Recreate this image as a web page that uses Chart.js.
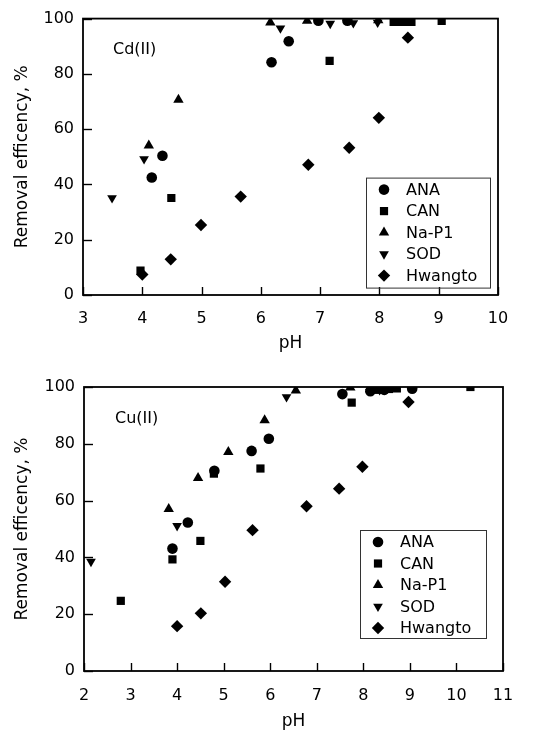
<!DOCTYPE html>
<html>
<head>
<meta charset="utf-8">
<script src="https://cdn.jsdelivr.net/npm/chart.js@4/dist/chart.umd.min.js"></script>
<style>
  html, body { margin: 0; padding: 0; background: #fff; }
  #wrap { position: relative; width: 542px; height: 733px; overflow: hidden; }
  canvas { position: absolute; left: 0; }
  #c1 { top: 0; }
  #c2 { top: 365px; }
</style>
</head>
<body>
<div id="wrap">
  <canvas id="c1" width="542" height="360"></canvas>
  <canvas id="c2" width="542" height="368"></canvas>
</div>
<script>
// ---------- Data: Cd(II) ----------
const cdAnaX = [4.16, 4.34, 6.18, 6.47, 6.97, 7.46, 8.47];
const cdAnaY = [42.5, 50.4, 84.2, 91.8, 99.2, 99.2, 99.2];
const cdCanX = [3.97, 4.49, 7.16, 8.24, 8.33, 8.42, 8.54, 9.05];
const cdCanY = [8.8, 35.1, 84.7, 98.8, 98.8, 98.8, 98.8, 99.2];
const cdNaX  = [4.11, 4.61, 6.16, 6.78, 7.98];
const cdNaY  = [54.1, 70.6, 98.6, 99.2, 99.4];
const cdSodX = [3.49, 4.03, 6.33, 7.17, 7.56, 7.97];
const cdSodY = [35.1, 49.2, 96.5, 98.2, 98.4, 98.6];
const cdHwX  = [4.0, 4.48, 4.99, 5.66, 6.8, 7.49, 7.99, 8.48];
const cdHwY  = [7.4, 12.9, 25.3, 35.6, 47.1, 53.3, 64.1, 93.1];

// ---------- Data: Cu(II) ----------
const cuAnaX = [3.9, 4.23, 4.8, 5.6, 5.97, 7.55, 8.15, 8.45, 9.05];
const cuAnaY = [43.1, 52.3, 70.5, 77.5, 81.8, 97.5, 98.5, 99.0, 99.4];
const cuCanX = [2.79, 3.9, 4.5, 4.79, 5.79, 7.75, 8.3, 8.55, 8.72, 10.3];
const cuCanY = [24.7, 39.3, 45.8, 69.5, 71.3, 94.5, 99.0, 99.3, 99.5, 100];
const cuNaX  = [3.82, 4.45, 5.1, 5.88, 6.55, 7.72, 8.15];
const cuNaY  = [57.0, 68.0, 77.1, 88.3, 98.8, 99.8, 100];
const cuSodX = [2.15, 4.0, 6.35, 8.35];
const cuSodY = [38.5, 51.1, 96.5, 99.0];
const cuHwX  = [4.0, 4.51, 5.03, 5.62, 6.78, 7.48, 7.98, 8.97];
const cuHwY  = [15.8, 20.3, 31.4, 49.6, 58.0, 64.2, 71.9, 94.7];

const seriesNames = ['ANA', 'CAN', 'Na-P1', 'SOD', 'Hwangto'];
const xTicksCd = [3, 10];
const xTicksCu = [2, 11];
const yTicks = [0, 100];

const styles = [
  { pointStyle: 'circle',   rotation: 0,   radius: 5.3 },
  { pointStyle: 'rect',     rotation: 0,   radius: 5.8 },
  { pointStyle: 'triangle', rotation: 0,   radius: 6.0 },
  { pointStyle: 'triangle', rotation: 180, radius: 5.6 },
  { pointStyle: 'rectRot',  rotation: 0,   radius: 6.2 }
];

function pts(xs, ys) { return xs.map((x, i) => ({ x: x, y: ys[i] })); }

function makeSets(groups) {
  return groups.map((g, i) => ({
    label: seriesNames[i],
    data: pts(g[0], g[1]),
    pointStyle: styles[i].pointStyle,
    rotation: styles[i].rotation,
    pointRadius: styles[i].radius,
    pointHoverRadius: styles[i].radius,
    backgroundColor: '#000',
    borderColor: '#000',
    borderWidth: 0,
    showLine: false
  }));
}

const FONT = '"DejaVu Sans", sans-serif';

const framePlugin = {
  id: 'frame',
  afterDraw(chart, args, opts) {
    const ctx = chart.ctx;
    const a = chart.chartArea;
    const xs = chart.scales.x, ys = chart.scales.y;
    ctx.save();
    ctx.strokeStyle = '#000';
    ctx.lineWidth = 1.8;
    ctx.strokeRect(a.left, a.top, a.right - a.left, a.bottom - a.top);
    ctx.lineWidth = 1.4;
    xs.ticks.forEach(t => {
      const px = Math.round(xs.getPixelForValue(t.value)) + 0.5;
      ctx.beginPath(); ctx.moveTo(px, a.bottom); ctx.lineTo(px, a.bottom - 8); ctx.stroke();
    });
    ys.ticks.forEach(t => {
      const py = Math.round(ys.getPixelForValue(t.value)) + 0.5;
      ctx.beginPath(); ctx.moveTo(a.left, py); ctx.lineTo(a.left + 9, py); ctx.stroke();
    });
    // panel label
    ctx.fillStyle = '#000';
    ctx.font = '16px ' + FONT;
    ctx.textBaseline = 'middle';
    ctx.textAlign = 'left';
    ctx.fillText(opts.label, a.left + opts.labelDx, a.top + opts.labelDy);
    // legend box
    const lx = a.right - opts.legRight, ly = a.top + opts.legTop;
    ctx.lineWidth = 1;
    ctx.strokeStyle = '#333';
    ctx.strokeRect(lx + 0.5, ly + 0.5, opts.legW, opts.legH);
    chart.data.datasets.forEach((ds, i) => {
      const cy = ly + 12 + i * 21.5;
      ctx.fillStyle = '#000';
      ctx.strokeStyle = '#000';
      Chart.helpers.drawPoint(ctx, {
        pointStyle: ds.pointStyle, rotation: ds.rotation, radius: ds.pointRadius, borderWidth: 0
      }, lx + 18, cy);
      ctx.fillStyle = '#000';
      ctx.font = '16px ' + FONT;
      ctx.textBaseline = 'middle';
      ctx.fillText(ds.label, lx + 40, cy + 1);
    });
    ctx.restore();
  }
};

function makeChart(id, groups, xr, cfg) {
  return new Chart(document.getElementById(id), {
    type: 'scatter',
    data: { datasets: makeSets(groups) },
    plugins: [framePlugin],
    options: {
      responsive: false,
      animation: false,
      devicePixelRatio: 1,
      events: [],
      layout: { padding: { top: cfg.padTop, right: cfg.padRight, left: 0, bottom: 0 } },
      plugins: {
        legend: { display: false },
        tooltip: { enabled: false },
        frame: cfg.frame
      },
      scales: {
        x: {
          type: 'linear', min: xr[0], max: xr[1],
          ticks: { stepSize: 1, color: '#000', font: { family: FONT, size: 16 }, padding: cfg.xPad, maxRotation: 0 },
          grid: { display: false, drawTicks: false },
          border: { display: false },
          title: { display: true, text: 'pH', color: '#000', font: { family: FONT, size: 17 }, padding: { top: 0, bottom: cfg.titleBottom } },
          afterFit: s => { s.height = cfg.xHeight; }
        },
        y: {
          type: 'linear', min: yTicks[0], max: yTicks[1],
          ticks: { stepSize: 20, color: '#000', font: { family: FONT, size: 16 }, padding: 9 },
          grid: { display: false, drawTicks: false },
          border: { display: false },
          title: { display: true, text: 'Removal efficency, %', color: '#000', font: { family: FONT, size: 17 }, padding: { top: 12, bottom: 0 } },
          afterFit: s => { s.width = cfg.yWidth; }
        }
      }
    }
  });
}

makeChart('c1',
  [[cdAnaX, cdAnaY], [cdCanX, cdCanY], [cdNaX, cdNaY], [cdSodX, cdSodY], [cdHwX, cdHwY]],
  xTicksCd,
  { padTop: 13, padRight: 44, xHeight: 65, yWidth: 83, titleBottom: 6, xPad: 14,
    frame: { label: 'Cd(II)', labelDx: 30, labelDy: 31, legRight: 132, legTop: 159, legW: 124, legH: 110 } });

makeChart('c2',
  [[cuAnaX, cuAnaY], [cuCanX, cuCanY], [cuNaX, cuNaY], [cuSodX, cuSodY], [cuHwX, cuHwY]],
  xTicksCu,
  { padTop: 22, padRight: 39, xHeight: 62, yWidth: 84, titleBottom: 1, xPad: 15,
    frame: { label: 'Cu(II)', labelDx: 31, labelDy: 32, legRight: 143, legTop: 143, legW: 126, legH: 108 } });
</script>
</body>
</html>
